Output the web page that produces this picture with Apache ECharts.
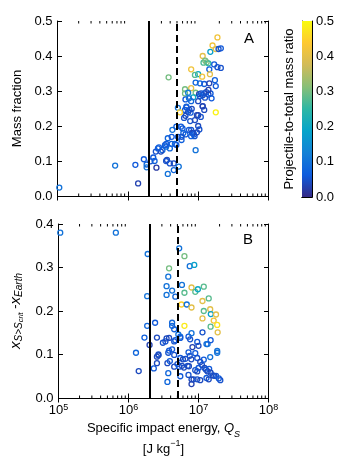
<!DOCTYPE html>
<html>
<head>
<meta charset="utf-8">
<script src="https://cdn.jsdelivr.net/npm/echarts@6/dist/echarts.min.js"></script>
<style>
html,body{margin:0;padding:0;background:#fff}
#main{width:350px;height:467px}
</style>
</head>
<body>
<div id="main"></div>
<script>
// panel A: specific impact energy (J/kg), mass fraction, projectile-to-total mass ratio
var topQ = [1.06e5, 6.6e5, 1.28e6, 1.4e6, 1.69e6, 1.85e6, 1.85e6, 2.1e6, 2.3e6, 2.4e6,
  2.5e6, 2.68e6, 2.55e6, 3.1e6, 3.5e6, 3.6e6, 3.96e6, 3.7e6, 3.8e6, 3.7e6,
  4.2e6, 4.3e6, 4.5e6, 4.5e6, 4.9e6, 5.15e6, 3.96e6, 4.2e6, 2.95e6, 3.37e6,
  3.52e6, 2.77e6, 5.3e6, 5.8e6, 6.0e6, 6.15e6, 6.3e6, 6.6e6, 6.5e6, 6.8e6,
  7.2e6, 7.5e6, 7.8e6, 8.1e6, 7.7e6, 7.4e6, 8.2e6, 8.5e6, 8.9e6, 7.95e6,
  9.0e6, 9.2e6, 1.0e7, 1.04e7, 9.6e6, 1.0e7, 1.09e7, 1.16e7, 1.22e7, 1.78e7,
  5.5e6, 1.88e7, 1.6e7, 1.49e7, 1.78e7, 2.1e7, 1.95e7, 1.16e7, 1.19e7, 1.32e7,
  1.40e7, 1.26e7, 1.69e7, 1.88e7, 2.1e7, 1.44e7, 7.95e6, 1.47e7, 1.0e7, 9.0e6,
  1.14e7, 1.73e7, 9.2e6, 1.06e7, 1.22e7, 1.44e7, 1.78e7, 7.95e6, 6.5e6, 6.5e6,
  7.2e6, 9.2e6, 8.5e6, 1.03e7, 1.1e7, 1.16e7, 1.22e7, 1.3e7, 1.4e7, 1.5e7,
  1.4e7, 1.55e7, 6.6e6, 7.4e6, 7.95e6, 6.8e6, 1.16e7, 1.06e7, 1.0e7, 1.25e7,
  5.7e6, 6.6e6, 7.95e6, 8.7e6, 9.6e6, 4.67e6, 4.9e6, 5.15e6, 5.8e6, 3.5e6];
var topMass = [0.024, 0.087, 0.089, 0.036, 0.105, 0.090, 0.082, 0.099, 0.110, 0.100,
  0.127, 0.136, 0.081, 0.131, 0.141, 0.103, 0.093, 0.063, 0.339, 0.165,
  0.169, 0.189, 0.093, 0.074, 0.198, 0.252, 0.136, 0.149, 0.127, 0.145,
  0.149, 0.139, 0.084, 0.160, 0.193, 0.180, 0.223, 0.229, 0.246, 0.255,
  0.240, 0.246, 0.238, 0.249, 0.214, 0.189, 0.180, 0.180, 0.171, 0.171,
  0.217, 0.131, 0.200, 0.190, 0.231, 0.231, 0.226, 0.256, 0.246, 0.239,
  0.239, 0.453, 0.430, 0.412, 0.420, 0.422, 0.420, 0.400, 0.381, 0.382,
  0.379, 0.387, 0.376, 0.368, 0.366, 0.362, 0.362, 0.348, 0.348, 0.346,
  0.341, 0.331, 0.324, 0.322, 0.320, 0.322, 0.314, 0.308, 0.305, 0.293,
  0.295, 0.295, 0.282, 0.291, 0.293, 0.288, 0.293, 0.297, 0.290, 0.293,
  0.303, 0.279, 0.276, 0.279, 0.271, 0.253, 0.257, 0.285, 0.271, 0.281,
  0.198, 0.176, 0.189, 0.176, 0.182, 0.149, 0.146, 0.169, 0.169, 0.100];
var topRatio = [0.10, 0.10, 0.06, 0.03, 0.06, 0.08, 0.10, 0.05, 0.06, 0.07,
  0.05, 0.06, 0.02, 0.08, 0.10, 0.04, 0.05, 0.10, 0.30, 0.08,
  0.06, 0.10, 0.04, 0.08, 0.07, 0.10, 0.08, 0.07, 0.04, 0.06,
  0.06, 0.07, 0.10, 0.07, 0.06, 0.08, 0.05, 0.04, 0.06, 0.08,
  0.04, 0.05, 0.06, 0.04, 0.05, 0.06, 0.05, 0.03, 0.05, 0.07,
  0.04, 0.10, 0.04, 0.05, 0.04, 0.03, 0.05, 0.05, 0.04, 0.49,
  0.45, 0.42, 0.42, 0.18, 0.40, 0.06, 0.05, 0.40, 0.27, 0.30,
  0.25, 0.30, 0.06, 0.05, 0.05, 0.07, 0.42, 0.40, 0.20, 0.28,
  0.42, 0.07, 0.08, 0.08, 0.06, 0.03, 0.06, 0.40, 0.30, 0.30,
  0.12, 0.30, 0.20, 0.03, 0.05, 0.04, 0.06, 0.05, 0.04, 0.06,
  0.03, 0.06, 0.06, 0.10, 0.08, 0.06, 0.03, 0.07, 0.04, 0.05,
  0.06, 0.06, 0.05, 0.06, 0.04, 0.08, 0.06, 0.07, 0.05, 0.05];

// panel B: specific impact energy (J/kg), x(S>Scrit) - x(Earth), mass ratio
var botQ = [1.06e5, 6.6e5, 1.88e6, 1.85e6, 1.85e6, 1.69e6, 2.0e6, 1.28e6, 1.4e6, 2.4e6,
  2.55e6, 2.55e6, 2.68e6, 2.3e6, 2.55e6, 3.1e6, 3.5e6, 3.7e6, 3.8e6, 4.2e6,
  3.6e6, 3.9e6, 3.7e6, 3.6e6, 3.5e6, 3.5e6, 3.7e6, 3.8e6, 4.2e6, 4.67e6,
  4.2e6, 4.2e6, 4.5e6, 4.5e6, 4.5e6, 5.3e6, 6.3e6, 7.5e6, 8.7e6, 5.8e6,
  7.95e6, 9.0e6, 9.8e6, 1.19e7, 6.3e6, 1.40e7, 1.14e7, 5.7e6, 6.8e6, 7.95e6,
  1.19e7, 1.47e7, 1.5e7, 1.78e7, 1.14e7, 1.65e7, 1.85e7, 1.49e7, 1.88e7, 6.3e6,
  3.37e6, 3.8e6, 4.67e6, 5.5e6, 7.2e6, 7.95e6, 7.6e6, 8.2e6, 9.6e6, 1.0e7,
  1.3e7, 1.35e7, 1.49e7, 1.85e7, 1.85e7, 2.68e6, 5.5e6, 6.0e6, 6.5e6, 7.2e6,
  7.5e6, 7.9e6, 9.0e6, 9.6e6, 1.06e7, 1.19e7, 1.47e7, 4.5e6, 5.0e6, 5.3e6,
  5.8e6, 6.2e6, 7.0e6, 7.3e6, 8.98e6, 9.6e6, 1.0e7, 1.12e7, 1.22e7, 1.28e7,
  1.35e7, 1.42e7, 1.49e7, 1.6e7, 1.68e7, 1.78e7, 1.95e7, 2.05e7, 5.5e6, 7.2e6,
  7.95e6, 7.95e6, 8.5e6, 9.6e6, 1.06e7, 1.3e7, 1.4e7, 1.14e7, 5.15e6, 5.5e6];
var botDx = [0.380, 0.380, 0.331, 0.234, 0.166, 0.139, 0.122, 0.104, 0.062, 0.173,
  0.139, 0.095, 0.100, 0.068, 0.080, 0.127, 0.137, 0.104, 0.109, 0.112,
  0.080, 0.085, 0.057, 0.037, 0.257, 0.237, 0.279, 0.298, 0.247, 0.233,
  0.173, 0.166, 0.158, 0.130, 0.099, 0.344, 0.326, 0.303, 0.306, 0.260,
  0.254, 0.244, 0.250, 0.256, 0.242, 0.229, 0.223, 0.215, 0.215, 0.208,
  0.200, 0.204, 0.193, 0.192, 0.183, 0.178, 0.168, 0.164, 0.151, 0.166,
  0.130, 0.138, 0.133, 0.141, 0.141, 0.149, 0.135, 0.117, 0.129, 0.120,
  0.124, 0.124, 0.133, 0.108, 0.104, 0.098, 0.092, 0.089, 0.090, 0.105,
  0.097, 0.089, 0.103, 0.092, 0.083, 0.088, 0.094, 0.072, 0.078, 0.072,
  0.074, 0.070, 0.074, 0.073, 0.064, 0.061, 0.069, 0.076, 0.069, 0.065,
  0.061, 0.067, 0.058, 0.052, 0.051, 0.051, 0.045, 0.041, 0.050, 0.053,
  0.043, 0.032, 0.043, 0.043, 0.041, 0.046, 0.043, 0.151, 0.146, 0.138];
var botRatio = [0.10, 0.10, 0.10, 0.10, 0.08, 0.07, 0.03, 0.08, 0.04, 0.06,
  0.04, 0.04, 0.05, 0.06, 0.04, 0.05, 0.04, 0.05, 0.06, 0.06,
  0.04, 0.06, 0.08, 0.08, 0.10, 0.10, 0.10, 0.30, 0.10, 0.08,
  0.08, 0.08, 0.07, 0.05, 0.05, 0.10, 0.30, 0.10, 0.18, 0.10,
  0.40, 0.28, 0.20, 0.28, 0.28, 0.28, 0.40, 0.45, 0.10, 0.40,
  0.28, 0.40, 0.18, 0.40, 0.40, 0.42, 0.47, 0.28, 0.40, 0.48,
  0.05, 0.04, 0.06, 0.08, 0.06, 0.10, 0.05, 0.03, 0.06, 0.04,
  0.08, 0.10, 0.06, 0.10, 0.10, 0.04, 0.06, 0.04, 0.05, 0.06,
  0.05, 0.04, 0.06, 0.05, 0.04, 0.06, 0.10, 0.04, 0.05, 0.06,
  0.04, 0.04, 0.05, 0.04, 0.05, 0.04, 0.06, 0.05, 0.04, 0.05,
  0.04, 0.06, 0.04, 0.05, 0.04, 0.05, 0.06, 0.05, 0.06, 0.05,
  0.04, 0.03, 0.04, 0.05, 0.04, 0.06, 0.04, 0.05, 0.10, 0.06];

var xDecades = [1e5, 1e6, 1e7, 1e8];
var solidQ = 2e6;   // solid reference line
var dashedQ = 5e6;  // dashed reference line
var ratioMax = 0.5;

// parula-like colour map
var parula = ['#352a87', '#0f5cdd', '#1481d6', '#06a4ca', '#2eb7a4',
  '#87bf77', '#d1bb59', '#fec832', '#f9fb0e'];

function hexRgb(h) {
  return [parseInt(h.substr(1, 2), 16), parseInt(h.substr(3, 2), 16), parseInt(h.substr(5, 2), 16)];
}
function cmap(r) {
  var t = Math.max(0, Math.min(1, r / ratioMax)) * (parula.length - 1);
  var i = Math.min(Math.floor(t), parula.length - 2), f = t - i;
  var a = hexRgb(parula[i]), b = hexRgb(parula[i + 1]);
  return 'rgb(' + [0, 1, 2].map(function (k) { return Math.round(a[k] + (b[k] - a[k]) * f); }).join(',') + ')';
}
function points(xs, ys, rs) {
  return xs.map(function (x, i) {
    return { value: [x, ys[i]], itemStyle: { borderColor: cmap(rs[i]) } };
  });
}
// minor log ticks 2..9 x 10^k
var minorQ = [];
xDecades.slice(0, 3).forEach(function (d) {
  for (var m = 2; m <= 9; m++) minorQ.push([d * m, 0]);
});

var FONT = 'Liberation Sans';
var black = '#000';

function minorTicks(yMin, yMax) {
  return function (params, api) {
    var b = api.coord([api.value(0), yMin]);
    var t = api.coord([api.value(0), yMax]);
    return {
      type: 'group', children: [
        { type: 'line', shape: { x1: b[0], y1: b[1], x2: b[0], y2: b[1] - 2.5 }, style: { stroke: black, lineWidth: 1 } },
        { type: 'line', shape: { x1: t[0], y1: t[1], x2: t[0], y2: t[1] + 2.5 }, style: { stroke: black, lineWidth: 1 } }
      ]
    };
  };
}

function logAxis(grid, pos, labels) {
  return {
    gridIndex: grid, type: 'log', logBase: 10, min: 1e5, max: 1e8, position: pos,
    axisLine: { lineStyle: { color: black, width: 1 } },
    axisTick: { inside: true, length: 4.5, lineStyle: { color: black } },
    splitLine: { show: false },
    axisLabel: labels ? {
      margin: 5, fontFamily: FONT, color: black,
      formatter: function (v) { return '{b|10}{s|' + Math.round(Math.log10(v)) + '}'; },
      rich: {
        b: { fontSize: 13, fontFamily: FONT, color: black },
        s: { fontSize: 9, fontFamily: FONT, color: black, verticalAlign: 'top', padding: [0, 0, 6, 0] }
      }
    } : { show: false }
  };
}
function valAxis(grid, pos, max, labels, name) {
  var ax = {
    gridIndex: grid, type: 'value', min: 0, max: max, interval: 0.1, position: pos,
    axisLine: { show: true, lineStyle: { color: black, width: 1 } },
    axisTick: { show: true, inside: true, length: 4.5, lineStyle: { color: black } },
    splitLine: { show: false },
    axisLabel: labels ? {
      margin: 5, fontSize: 13, fontFamily: FONT, color: black,
      formatter: function (v) { return v.toFixed(1); }
    } : { show: false }
  };
  return ax;
}

var yTop = valAxis(0, 'left', 0.5, true);
yTop.name = 'Mass fraction';
yTop.nameLocation = 'middle';
yTop.nameGap = 30;
yTop.nameTextStyle = { fontSize: 13, fontFamily: FONT, color: black };

var yBot = valAxis(1, 'left', 0.4, true);
yBot.name = '{i|x}{s|S>S}{ss|crit}{n| -}{i|x}{s|Earth}';
yBot.nameLocation = 'middle';
yBot.nameGap = 31;
yBot.nameTextStyle = {
  fontFamily: FONT, color: black,
  rich: {
    i: { fontSize: 15, fontStyle: 'italic', fontFamily: FONT, color: black },
    n: { fontSize: 13, fontFamily: FONT, color: black },
    s: { fontSize: 10, fontStyle: 'italic', fontFamily: FONT, color: black, verticalAlign: 'bottom', padding: [6, 0, 0, 0] },
    ss: { fontSize: 7.5, fontStyle: 'italic', fontFamily: FONT, color: black, verticalAlign: 'bottom', padding: [10, 0, 0, 0] }
  }
};

var xBot = logAxis(1, 'bottom', true);
xBot.name = '{t|Specific impact energy, }{i|Q}{s|S}\n{t|[J kg}{p|\u22121}{t|]}';
xBot.nameLocation = 'middle';
xBot.nameGap = 20;
xBot.nameTextStyle = {
  fontFamily: FONT, color: black, lineHeight: 21,
  rich: {
    t: { fontSize: 13, fontFamily: FONT, color: black, lineHeight: 21 },
    i: { fontSize: 13, fontStyle: 'italic', fontFamily: FONT, color: black, lineHeight: 21 },
    s: { fontSize: 9, fontStyle: 'italic', fontFamily: FONT, color: black, verticalAlign: 'bottom', padding: [6, 0, 0, 0] },
    p: { fontSize: 9, fontFamily: FONT, color: black, verticalAlign: 'top', padding: [0, 0, 7, 0] }
  }
};

var cbLeft = {
  gridIndex: 2, type: 'value', min: 0, max: ratioMax, position: 'left',
  axisLine: { show: true, lineStyle: { color: black, width: 1 } },
  axisTick: { show: false }, axisLabel: { show: false }, splitLine: { show: false },
  name: 'Projectile-to-total mass ratio', nameLocation: 'middle', nameGap: 6,
  nameTextStyle: { fontSize: 13, fontFamily: FONT, color: black }
};
var cbRight = {
  gridIndex: 2, type: 'value', min: 0, max: ratioMax, interval: 0.1, position: 'right',
  axisLine: { show: true, lineStyle: { color: black, width: 1 } },
  axisTick: { show: true, inside: true, length: 2.5, lineStyle: { color: black } },
  splitLine: { show: false },
  axisLabel: { margin: 4, fontSize: 13, fontFamily: FONT, color: black, formatter: function (v) { return v.toFixed(1); } }
};

var stops = parula.map(function (c, i) { return { offset: i / (parula.length - 1), color: c }; });

var myChart = echarts.init(document.getElementById('main'), null, { renderer: 'canvas' });
var option = {
  animation: false,
  backgroundColor: '#fff',
  grid: [
    { left: 57.5, top: 21, width: 211, height: 175 },
    { left: 57.5, top: 224, width: 211, height: 174 },
    { left: 302, top: 21, width: 10, height: 176 }
  ],
  xAxis: [
    logAxis(0, 'bottom', false),
    logAxis(0, 'top', false),
    xBot,
    logAxis(1, 'top', false),
    { gridIndex: 2, type: 'category', data: ['c'], axisLine: { show: true, lineStyle: { color: black } }, axisTick: { show: false }, axisLabel: { show: false } },
    { gridIndex: 2, type: 'category', data: ['c'], position: 'top', axisLine: { show: true, lineStyle: { color: black } }, axisTick: { show: false }, axisLabel: { show: false } }
  ],
  yAxis: [
    yTop,
    valAxis(0, 'right', 0.5, false),
    yBot,
    valAxis(1, 'right', 0.4, false),
    cbLeft,
    cbRight
  ],
  graphic: [
    { type: 'text', left: 244, top: 31, style: { text: 'A', fontSize: 15, fontFamily: FONT, fill: black } },
    { type: 'text', left: 243, top: 232, style: { text: 'B', fontSize: 15, fontFamily: FONT, fill: black } }
  ],
  series: [
    {
      type: 'scatter', xAxisIndex: 0, yAxisIndex: 0, symbol: 'circle', symbolSize: 5,
      itemStyle: { color: 'rgba(0,0,0,0)', borderWidth: 1.3, opacity: 1 },
      emphasis: { disabled: true },
      data: points(topQ, topMass, topRatio),
      markLine: {
        silent: true, symbol: 'none', label: { show: false },
        data: [
          { xAxis: solidQ, lineStyle: { color: black, width: 2, type: 'solid' } },
          { xAxis: dashedQ, lineStyle: { color: black, width: 2, type: [7, 4] } }
        ]
      }
    },
    {
      type: 'scatter', xAxisIndex: 2, yAxisIndex: 2, symbol: 'circle', symbolSize: 5,
      itemStyle: { color: 'rgba(0,0,0,0)', borderWidth: 1.3, opacity: 1 },
      emphasis: { disabled: true },
      data: points(botQ, botDx, botRatio),
      markLine: {
        silent: true, symbol: 'none', label: { show: false },
        data: [
          { xAxis: solidQ, lineStyle: { color: black, width: 2, type: 'solid' } },
          { xAxis: dashedQ, lineStyle: { color: black, width: 2, type: [7, 4] } }
        ]
      }
    },
    {
      type: 'custom', xAxisIndex: 0, yAxisIndex: 0, silent: true,
      renderItem: minorTicks(0, 0.5), data: minorQ, encode: { x: 0, y: 1 }
    },
    {
      type: 'custom', xAxisIndex: 2, yAxisIndex: 2, silent: true,
      renderItem: minorTicks(0, 0.4), data: minorQ, encode: { x: 0, y: 1 }
    },
    {
      type: 'bar', xAxisIndex: 4, yAxisIndex: 5, barWidth: '100%', silent: true,
      data: [ratioMax],
      itemStyle: { color: new echarts.graphic.LinearGradient(0, 1, 0, 0, stops) }
    }
  ]
};
myChart.setOption(option);
</script>
</body>
</html>
